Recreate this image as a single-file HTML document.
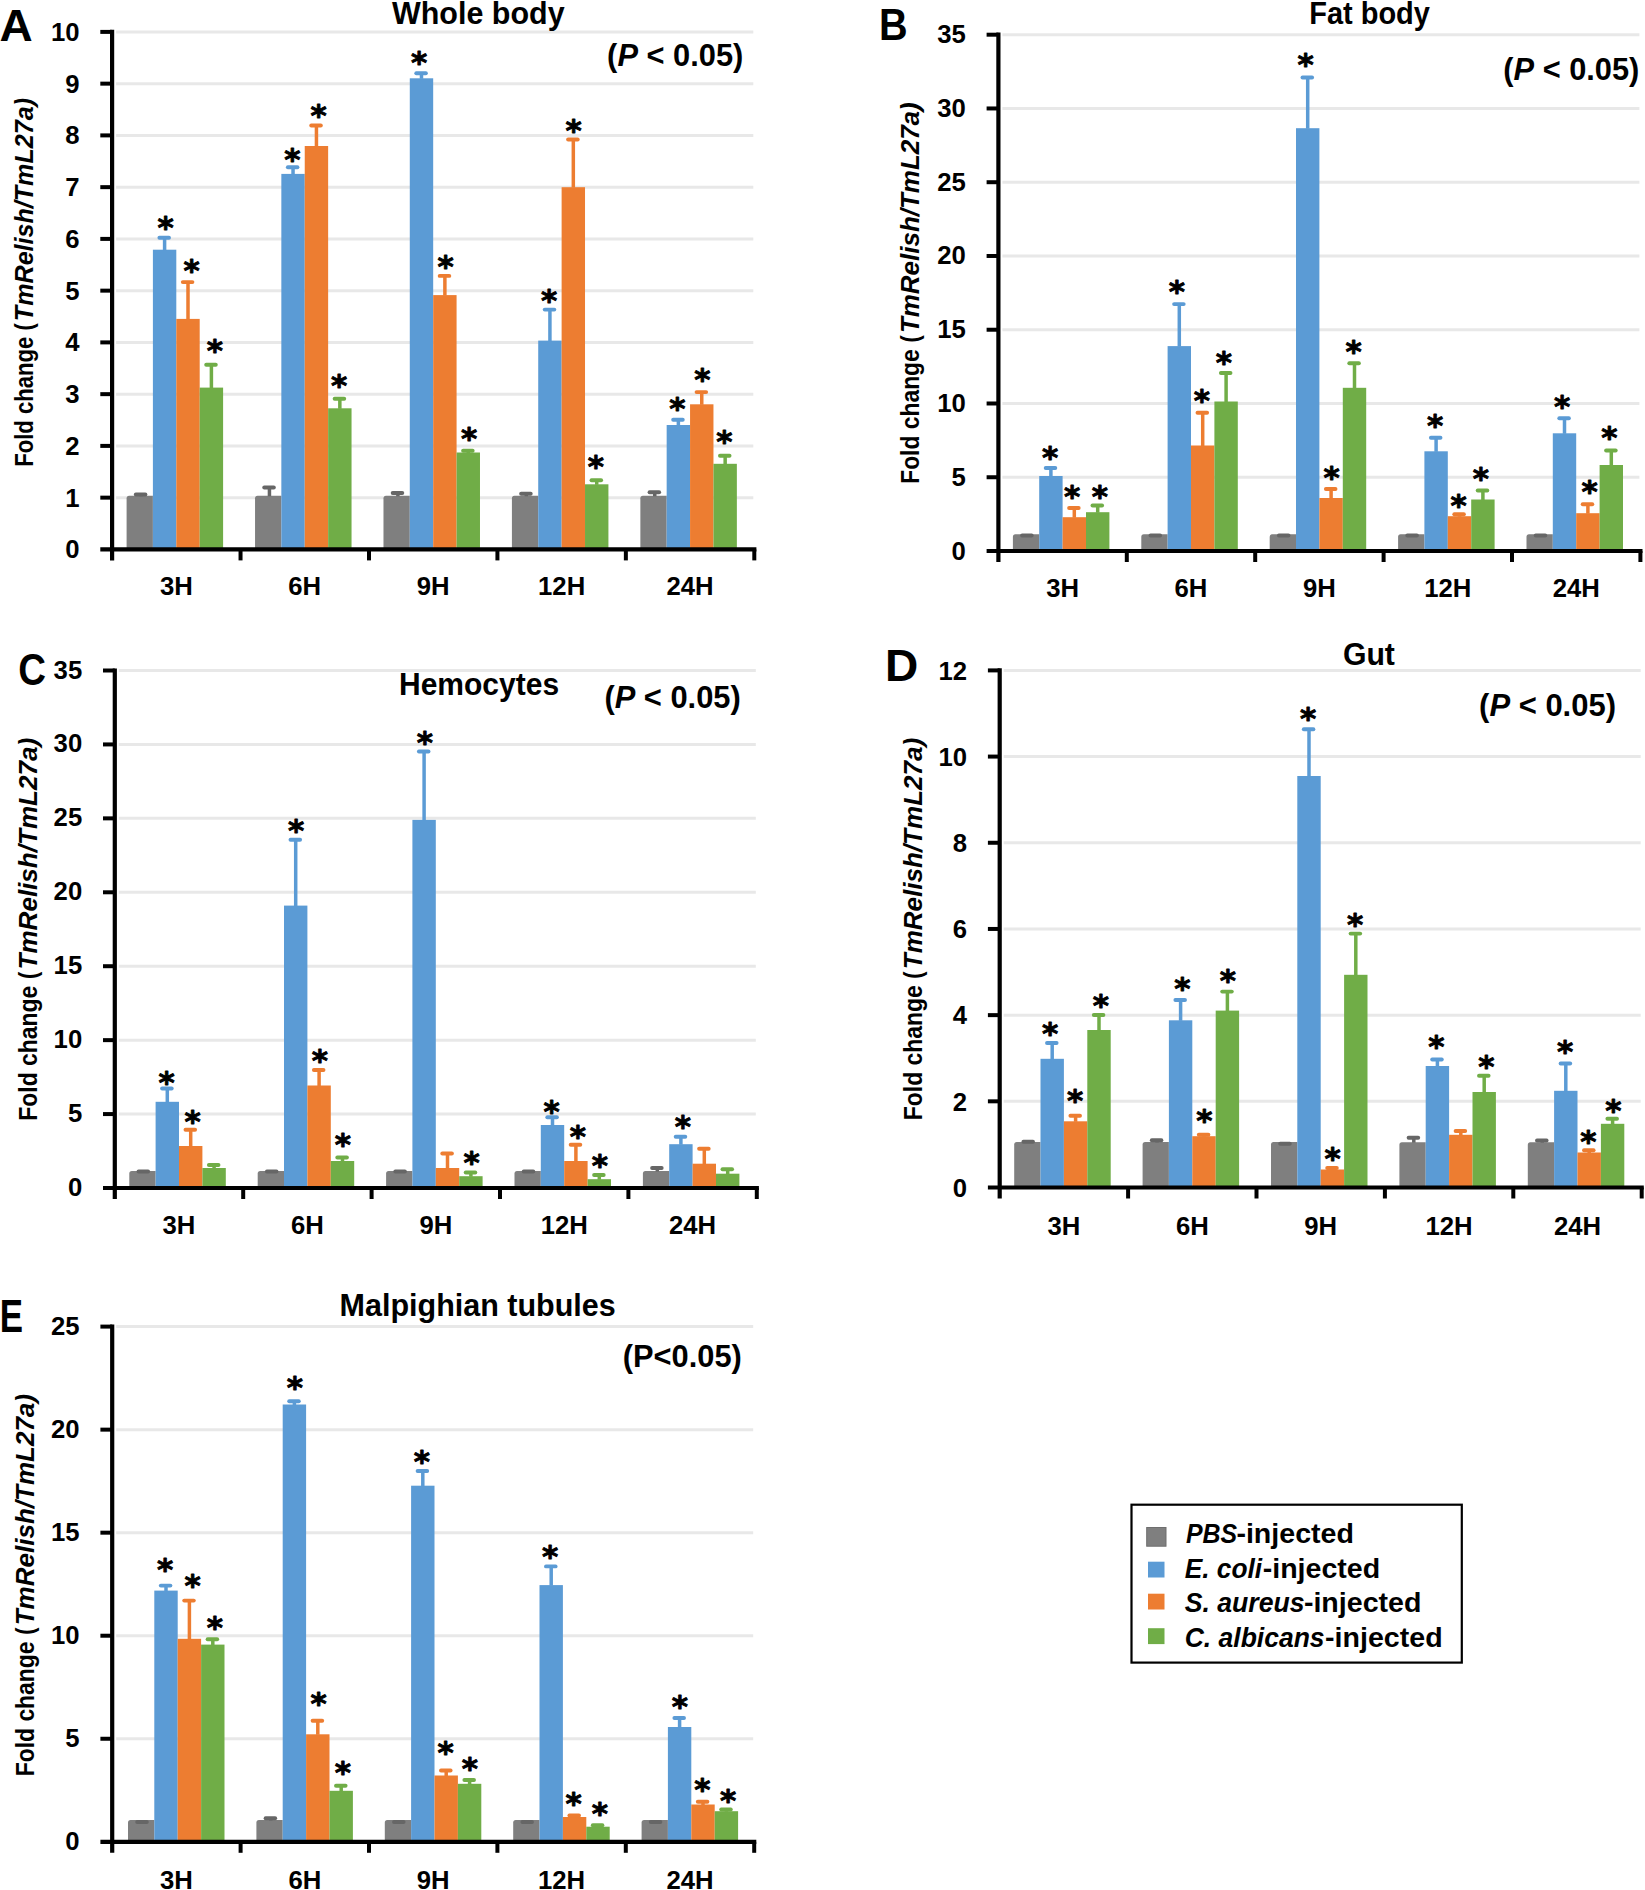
<!DOCTYPE html>
<html lang="en">
<head>
<meta charset="utf-8">
<title>TmRelish expression</title>
<style>
html,body{margin:0;padding:0;background:#fff;}
body{width:1645px;height:1890px;overflow:hidden;}
svg{display:block;}
text{font-family:"Liberation Sans", sans-serif;font-weight:bold;fill:#000;}
.t{font-size:25.7px;}
.s{font-size:31px;font-family:"DejaVu Sans","Liberation Sans",sans-serif;stroke:#000;stroke-width:0.9px;stroke-linejoin:round;}
.T{font-size:30.6px;}
.G{font-size:26.8px;}
</style>
</head>
<body>
<svg width="1645" height="1890" viewBox="0 0 1645 1890">
<rect x="0" y="0" width="1645" height="1890" fill="#ffffff"/>
<g>
<line x1="116.1" y1="497.65" x2="753.3" y2="497.65" stroke="#e8e8e8" stroke-width="3"/>
<line x1="116.1" y1="445.9" x2="753.3" y2="445.9" stroke="#e8e8e8" stroke-width="3"/>
<line x1="116.1" y1="394.15" x2="753.3" y2="394.15" stroke="#e8e8e8" stroke-width="3"/>
<line x1="116.1" y1="342.4" x2="753.3" y2="342.4" stroke="#e8e8e8" stroke-width="3"/>
<line x1="116.1" y1="290.65" x2="753.3" y2="290.65" stroke="#e8e8e8" stroke-width="3"/>
<line x1="116.1" y1="238.9" x2="753.3" y2="238.9" stroke="#e8e8e8" stroke-width="3"/>
<line x1="116.1" y1="187.15" x2="753.3" y2="187.15" stroke="#e8e8e8" stroke-width="3"/>
<line x1="116.1" y1="135.4" x2="753.3" y2="135.4" stroke="#e8e8e8" stroke-width="3"/>
<line x1="116.1" y1="83.65" x2="753.3" y2="83.65" stroke="#e8e8e8" stroke-width="3"/>
<line x1="116.1" y1="31.9" x2="753.3" y2="31.9" stroke="#e8e8e8" stroke-width="3"/>
<path d="M126.6 549.4 L126.6 498.3 Q126.6 495.8 129.1 495.8 L152.9 495.8 L152.9 549.4 Z" fill="#7f7f7f"/>
<rect x="152.9" y="249.7" width="23.4" height="299.7" fill="#5b9bd5"/>
<rect x="176.3" y="318.9" width="23.4" height="230.5" fill="#ed7d31"/>
<rect x="199.7" y="387.6" width="23.4" height="161.8" fill="#70ad47"/>
<line x1="141" y1="494.5" x2="141" y2="496.3" stroke="#666666" stroke-width="3.5"/>
<line x1="135.8" y1="494.5" x2="145.4" y2="494.5" stroke="#666666" stroke-width="3.9" stroke-linecap="round"/>
<line x1="164.6" y1="237.7" x2="164.6" y2="250.2" stroke="#5b9bd5" stroke-width="3.5"/>
<line x1="159.4" y1="237.7" x2="169" y2="237.7" stroke="#5b9bd5" stroke-width="3.9" stroke-linecap="round"/>
<line x1="188" y1="282.1" x2="188" y2="319.4" stroke="#ed7d31" stroke-width="3.5"/>
<line x1="182.8" y1="282.1" x2="192.4" y2="282.1" stroke="#ed7d31" stroke-width="3.9" stroke-linecap="round"/>
<line x1="211.4" y1="364.8" x2="211.4" y2="388.1" stroke="#70ad47" stroke-width="3.5"/>
<line x1="206.2" y1="364.8" x2="215.8" y2="364.8" stroke="#70ad47" stroke-width="3.9" stroke-linecap="round"/>
<path d="M255.04 549.4 L255.04 498.3 Q255.04 495.8 257.54 495.8 L281.34 495.8 L281.34 549.4 Z" fill="#7f7f7f"/>
<rect x="281.34" y="173.9" width="23.4" height="375.5" fill="#5b9bd5"/>
<rect x="304.74" y="146" width="23.4" height="403.4" fill="#ed7d31"/>
<rect x="328.14" y="408.3" width="23.4" height="141.1" fill="#70ad47"/>
<line x1="269.44" y1="487.5" x2="269.44" y2="496.3" stroke="#666666" stroke-width="3.5"/>
<line x1="264.24" y1="487.5" x2="273.84" y2="487.5" stroke="#666666" stroke-width="3.9" stroke-linecap="round"/>
<line x1="293.04" y1="167.2" x2="293.04" y2="174.4" stroke="#5b9bd5" stroke-width="3.5"/>
<line x1="287.84" y1="167.2" x2="297.44" y2="167.2" stroke="#5b9bd5" stroke-width="3.9" stroke-linecap="round"/>
<line x1="316.44" y1="125.5" x2="316.44" y2="146.5" stroke="#ed7d31" stroke-width="3.5"/>
<line x1="311.24" y1="125.5" x2="320.84" y2="125.5" stroke="#ed7d31" stroke-width="3.9" stroke-linecap="round"/>
<line x1="339.84" y1="398.8" x2="339.84" y2="408.8" stroke="#70ad47" stroke-width="3.5"/>
<line x1="334.64" y1="398.8" x2="344.24" y2="398.8" stroke="#70ad47" stroke-width="3.9" stroke-linecap="round"/>
<path d="M383.48 549.4 L383.48 498.3 Q383.48 495.8 385.98 495.8 L409.78 495.8 L409.78 549.4 Z" fill="#7f7f7f"/>
<rect x="409.78" y="78.3" width="23.4" height="471.1" fill="#5b9bd5"/>
<rect x="433.18" y="295.1" width="23.4" height="254.3" fill="#ed7d31"/>
<rect x="456.58" y="452.5" width="23.4" height="96.9" fill="#70ad47"/>
<line x1="397.88" y1="493" x2="397.88" y2="496.3" stroke="#666666" stroke-width="3.5"/>
<line x1="392.68" y1="493" x2="402.28" y2="493" stroke="#666666" stroke-width="3.9" stroke-linecap="round"/>
<line x1="421.48" y1="73.2" x2="421.48" y2="78.8" stroke="#5b9bd5" stroke-width="3.5"/>
<line x1="416.28" y1="73.2" x2="425.88" y2="73.2" stroke="#5b9bd5" stroke-width="3.9" stroke-linecap="round"/>
<line x1="444.88" y1="275.9" x2="444.88" y2="295.6" stroke="#ed7d31" stroke-width="3.5"/>
<line x1="439.68" y1="275.9" x2="449.28" y2="275.9" stroke="#ed7d31" stroke-width="3.9" stroke-linecap="round"/>
<line x1="468.28" y1="450.8" x2="468.28" y2="453" stroke="#70ad47" stroke-width="3.5"/>
<line x1="463.08" y1="450.8" x2="472.68" y2="450.8" stroke="#70ad47" stroke-width="3.9" stroke-linecap="round"/>
<path d="M511.92 549.4 L511.92 498.3 Q511.92 495.8 514.42 495.8 L538.22 495.8 L538.22 549.4 Z" fill="#7f7f7f"/>
<rect x="538.22" y="340.6" width="23.4" height="208.8" fill="#5b9bd5"/>
<rect x="561.62" y="187.2" width="23.4" height="362.2" fill="#ed7d31"/>
<rect x="585.02" y="484.3" width="23.4" height="65.1" fill="#70ad47"/>
<line x1="526.32" y1="493.8" x2="526.32" y2="496.3" stroke="#666666" stroke-width="3.5"/>
<line x1="521.12" y1="493.8" x2="530.72" y2="493.8" stroke="#666666" stroke-width="3.9" stroke-linecap="round"/>
<line x1="549.92" y1="309.6" x2="549.92" y2="341.1" stroke="#5b9bd5" stroke-width="3.5"/>
<line x1="544.72" y1="309.6" x2="554.32" y2="309.6" stroke="#5b9bd5" stroke-width="3.9" stroke-linecap="round"/>
<line x1="573.32" y1="139.5" x2="573.32" y2="187.7" stroke="#ed7d31" stroke-width="3.5"/>
<line x1="568.12" y1="139.5" x2="577.72" y2="139.5" stroke="#ed7d31" stroke-width="3.9" stroke-linecap="round"/>
<line x1="596.72" y1="480.3" x2="596.72" y2="484.8" stroke="#70ad47" stroke-width="3.5"/>
<line x1="591.52" y1="480.3" x2="601.12" y2="480.3" stroke="#70ad47" stroke-width="3.9" stroke-linecap="round"/>
<path d="M640.36 549.4 L640.36 498.3 Q640.36 495.8 642.86 495.8 L666.66 495.8 L666.66 549.4 Z" fill="#7f7f7f"/>
<rect x="666.66" y="425" width="23.4" height="124.4" fill="#5b9bd5"/>
<rect x="690.06" y="404.3" width="23.4" height="145.1" fill="#ed7d31"/>
<rect x="713.46" y="463.8" width="23.4" height="85.6" fill="#70ad47"/>
<line x1="654.76" y1="492.3" x2="654.76" y2="496.3" stroke="#666666" stroke-width="3.5"/>
<line x1="649.56" y1="492.3" x2="659.16" y2="492.3" stroke="#666666" stroke-width="3.9" stroke-linecap="round"/>
<line x1="678.36" y1="419.8" x2="678.36" y2="425.5" stroke="#5b9bd5" stroke-width="3.5"/>
<line x1="673.16" y1="419.8" x2="682.76" y2="419.8" stroke="#5b9bd5" stroke-width="3.9" stroke-linecap="round"/>
<line x1="701.76" y1="392.1" x2="701.76" y2="404.8" stroke="#ed7d31" stroke-width="3.5"/>
<line x1="696.56" y1="392.1" x2="706.16" y2="392.1" stroke="#ed7d31" stroke-width="3.9" stroke-linecap="round"/>
<line x1="725.16" y1="455.8" x2="725.16" y2="464.3" stroke="#70ad47" stroke-width="3.5"/>
<line x1="719.96" y1="455.8" x2="729.56" y2="455.8" stroke="#70ad47" stroke-width="3.9" stroke-linecap="round"/>
<line x1="112.1" y1="29.8" x2="112.1" y2="560.4" stroke="#000" stroke-width="4.2"/>
<line x1="100.3" y1="549.4" x2="756.4" y2="549.4" stroke="#000" stroke-width="4.2"/>
<line x1="100.3" y1="497.65" x2="112.1" y2="497.65" stroke="#000" stroke-width="4"/>
<line x1="100.3" y1="445.9" x2="112.1" y2="445.9" stroke="#000" stroke-width="4"/>
<line x1="100.3" y1="394.15" x2="112.1" y2="394.15" stroke="#000" stroke-width="4"/>
<line x1="100.3" y1="342.4" x2="112.1" y2="342.4" stroke="#000" stroke-width="4"/>
<line x1="100.3" y1="290.65" x2="112.1" y2="290.65" stroke="#000" stroke-width="4"/>
<line x1="100.3" y1="238.9" x2="112.1" y2="238.9" stroke="#000" stroke-width="4"/>
<line x1="100.3" y1="187.15" x2="112.1" y2="187.15" stroke="#000" stroke-width="4"/>
<line x1="100.3" y1="135.4" x2="112.1" y2="135.4" stroke="#000" stroke-width="4"/>
<line x1="100.3" y1="83.65" x2="112.1" y2="83.65" stroke="#000" stroke-width="4"/>
<line x1="100.3" y1="31.9" x2="112.1" y2="31.9" stroke="#000" stroke-width="4"/>
<line x1="240.54" y1="549.4" x2="240.54" y2="560.4" stroke="#000" stroke-width="4"/>
<line x1="368.98" y1="549.4" x2="368.98" y2="560.4" stroke="#000" stroke-width="4"/>
<line x1="497.42" y1="549.4" x2="497.42" y2="560.4" stroke="#000" stroke-width="4"/>
<line x1="625.86" y1="549.4" x2="625.86" y2="560.4" stroke="#000" stroke-width="4"/>
<line x1="754.3" y1="549.4" x2="754.3" y2="560.4" stroke="#000" stroke-width="4"/>
<text class="t" x="79.5" y="558.4" text-anchor="end">0</text>
<text class="t" x="79.5" y="506.65" text-anchor="end">1</text>
<text class="t" x="79.5" y="454.9" text-anchor="end">2</text>
<text class="t" x="79.5" y="403.15" text-anchor="end">3</text>
<text class="t" x="79.5" y="351.4" text-anchor="end">4</text>
<text class="t" x="79.5" y="299.65" text-anchor="end">5</text>
<text class="t" x="79.5" y="247.9" text-anchor="end">6</text>
<text class="t" x="79.5" y="196.15" text-anchor="end">7</text>
<text class="t" x="79.5" y="144.4" text-anchor="end">8</text>
<text class="t" x="79.5" y="92.65" text-anchor="end">9</text>
<text class="t" x="79.5" y="40.9" text-anchor="end">10</text>
<text class="t" x="176.32" y="595" text-anchor="middle">3H</text>
<text class="t" x="304.76" y="595" text-anchor="middle">6H</text>
<text class="t" x="433.2" y="595" text-anchor="middle">9H</text>
<text class="t" x="561.64" y="595" text-anchor="middle">12H</text>
<text class="t" x="690.08" y="595" text-anchor="middle">24H</text>
<text class="s" x="165.5" y="237.5" text-anchor="middle">*</text>
<text class="s" x="191.7" y="281.2" text-anchor="middle">*</text>
<text class="s" x="214.9" y="361.2" text-anchor="middle">*</text>
<text class="s" x="292.4" y="170.1" text-anchor="middle">*</text>
<text class="s" x="318.6" y="126.3" text-anchor="middle">*</text>
<text class="s" x="339.1" y="395.7" text-anchor="middle">*</text>
<text class="s" x="419" y="72.8" text-anchor="middle">*</text>
<text class="s" x="445.5" y="277" text-anchor="middle">*</text>
<text class="s" x="469" y="448.6" text-anchor="middle">*</text>
<text class="s" x="549.2" y="310.7" text-anchor="middle">*</text>
<text class="s" x="573.6" y="141.3" text-anchor="middle">*</text>
<text class="s" x="595.9" y="477.4" text-anchor="middle">*</text>
<text class="s" x="677.3" y="419.4" text-anchor="middle">*</text>
<text class="s" x="702.3" y="390.4" text-anchor="middle">*</text>
<text class="s" x="724.3" y="452.4" text-anchor="middle">*</text>
<text class="L" x="-0.5" y="41.3" font-size="43.88" textLength="33.21" lengthAdjust="spacingAndGlyphs">A</text>
<text class="T" x="392" y="24.2" textLength="172.6" lengthAdjust="spacingAndGlyphs">Whole body</text>
<text class="T" x="607.1" y="66.2" textLength="136.2" lengthAdjust="spacingAndGlyphs">(<tspan font-style="italic">P</tspan> &lt; 0.05)</text>
<text class="t" transform="translate(32.9 466.8) rotate(-90)" x="0" y="0" textLength="143.66" lengthAdjust="spacingAndGlyphs">Fold change (</text>
<text class="t" font-style="italic" transform="translate(32.9 321.14) rotate(-90)" x="0" y="0" textLength="223.14" lengthAdjust="spacingAndGlyphs">TmRelish/TmL27a)</text>
</g>
<g>
<line x1="1002.4" y1="477.24" x2="1639.4" y2="477.24" stroke="#e8e8e8" stroke-width="3"/>
<line x1="1002.4" y1="403.49" x2="1639.4" y2="403.49" stroke="#e8e8e8" stroke-width="3"/>
<line x1="1002.4" y1="329.73" x2="1639.4" y2="329.73" stroke="#e8e8e8" stroke-width="3"/>
<line x1="1002.4" y1="255.97" x2="1639.4" y2="255.97" stroke="#e8e8e8" stroke-width="3"/>
<line x1="1002.4" y1="182.21" x2="1639.4" y2="182.21" stroke="#e8e8e8" stroke-width="3"/>
<line x1="1002.4" y1="108.46" x2="1639.4" y2="108.46" stroke="#e8e8e8" stroke-width="3"/>
<line x1="1002.4" y1="34.7" x2="1639.4" y2="34.7" stroke="#e8e8e8" stroke-width="3"/>
<path d="M1012.9 551 L1012.9 536.7 Q1012.9 534.2 1015.4 534.2 L1039.2 534.2 L1039.2 551 Z" fill="#7f7f7f"/>
<rect x="1039.2" y="476" width="23.4" height="75" fill="#5b9bd5"/>
<rect x="1062.6" y="517.2" width="23.4" height="33.8" fill="#ed7d31"/>
<rect x="1086" y="512.2" width="23.4" height="38.8" fill="#70ad47"/>
<line x1="1022.1" y1="535.5" x2="1031.7" y2="535.5" stroke="#666666" stroke-width="3.9" stroke-linecap="round"/>
<line x1="1050.9" y1="468" x2="1050.9" y2="476.5" stroke="#5b9bd5" stroke-width="3.5"/>
<line x1="1045.7" y1="468" x2="1055.3" y2="468" stroke="#5b9bd5" stroke-width="3.9" stroke-linecap="round"/>
<line x1="1074.3" y1="508" x2="1074.3" y2="517.7" stroke="#ed7d31" stroke-width="3.5"/>
<line x1="1069.1" y1="508" x2="1078.7" y2="508" stroke="#ed7d31" stroke-width="3.9" stroke-linecap="round"/>
<line x1="1097.7" y1="505.5" x2="1097.7" y2="512.7" stroke="#70ad47" stroke-width="3.5"/>
<line x1="1092.5" y1="505.5" x2="1102.1" y2="505.5" stroke="#70ad47" stroke-width="3.9" stroke-linecap="round"/>
<path d="M1141.3 551 L1141.3 536.7 Q1141.3 534.2 1143.8 534.2 L1167.6 534.2 L1167.6 551 Z" fill="#7f7f7f"/>
<rect x="1167.6" y="346.1" width="23.4" height="204.9" fill="#5b9bd5"/>
<rect x="1191" y="445.5" width="23.4" height="105.5" fill="#ed7d31"/>
<rect x="1214.4" y="401.5" width="23.4" height="149.5" fill="#70ad47"/>
<line x1="1150.5" y1="535.5" x2="1160.1" y2="535.5" stroke="#666666" stroke-width="3.9" stroke-linecap="round"/>
<line x1="1179.3" y1="304.1" x2="1179.3" y2="346.6" stroke="#5b9bd5" stroke-width="3.5"/>
<line x1="1174.1" y1="304.1" x2="1183.7" y2="304.1" stroke="#5b9bd5" stroke-width="3.9" stroke-linecap="round"/>
<line x1="1202.7" y1="412.8" x2="1202.7" y2="446" stroke="#ed7d31" stroke-width="3.5"/>
<line x1="1197.5" y1="412.8" x2="1207.1" y2="412.8" stroke="#ed7d31" stroke-width="3.9" stroke-linecap="round"/>
<line x1="1226.1" y1="373" x2="1226.1" y2="402" stroke="#70ad47" stroke-width="3.5"/>
<line x1="1220.9" y1="373" x2="1230.5" y2="373" stroke="#70ad47" stroke-width="3.9" stroke-linecap="round"/>
<path d="M1269.7 551 L1269.7 536.7 Q1269.7 534.2 1272.2 534.2 L1296 534.2 L1296 551 Z" fill="#7f7f7f"/>
<rect x="1296" y="128.2" width="23.4" height="422.8" fill="#5b9bd5"/>
<rect x="1319.4" y="498" width="23.4" height="53" fill="#ed7d31"/>
<rect x="1342.8" y="387.8" width="23.4" height="163.2" fill="#70ad47"/>
<line x1="1278.9" y1="535.5" x2="1288.5" y2="535.5" stroke="#666666" stroke-width="3.9" stroke-linecap="round"/>
<line x1="1307.7" y1="77.5" x2="1307.7" y2="128.7" stroke="#5b9bd5" stroke-width="3.5"/>
<line x1="1302.5" y1="77.5" x2="1312.1" y2="77.5" stroke="#5b9bd5" stroke-width="3.9" stroke-linecap="round"/>
<line x1="1331.1" y1="489" x2="1331.1" y2="498.5" stroke="#ed7d31" stroke-width="3.5"/>
<line x1="1325.9" y1="489" x2="1335.5" y2="489" stroke="#ed7d31" stroke-width="3.9" stroke-linecap="round"/>
<line x1="1354.5" y1="363.3" x2="1354.5" y2="388.3" stroke="#70ad47" stroke-width="3.5"/>
<line x1="1349.3" y1="363.3" x2="1358.9" y2="363.3" stroke="#70ad47" stroke-width="3.9" stroke-linecap="round"/>
<path d="M1398.1 551 L1398.1 536.7 Q1398.1 534.2 1400.6 534.2 L1424.4 534.2 L1424.4 551 Z" fill="#7f7f7f"/>
<rect x="1424.4" y="451.3" width="23.4" height="99.7" fill="#5b9bd5"/>
<rect x="1447.8" y="516.2" width="23.4" height="34.8" fill="#ed7d31"/>
<rect x="1471.2" y="499.5" width="23.4" height="51.5" fill="#70ad47"/>
<line x1="1407.3" y1="535.5" x2="1416.9" y2="535.5" stroke="#666666" stroke-width="3.9" stroke-linecap="round"/>
<line x1="1436.1" y1="437.8" x2="1436.1" y2="451.8" stroke="#5b9bd5" stroke-width="3.5"/>
<line x1="1430.9" y1="437.8" x2="1440.5" y2="437.8" stroke="#5b9bd5" stroke-width="3.9" stroke-linecap="round"/>
<line x1="1459.5" y1="514.2" x2="1459.5" y2="516.7" stroke="#ed7d31" stroke-width="3.5"/>
<line x1="1454.3" y1="514.2" x2="1463.9" y2="514.2" stroke="#ed7d31" stroke-width="3.9" stroke-linecap="round"/>
<line x1="1482.9" y1="490.5" x2="1482.9" y2="500" stroke="#70ad47" stroke-width="3.5"/>
<line x1="1477.7" y1="490.5" x2="1487.3" y2="490.5" stroke="#70ad47" stroke-width="3.9" stroke-linecap="round"/>
<path d="M1526.5 551 L1526.5 536.7 Q1526.5 534.2 1529 534.2 L1552.8 534.2 L1552.8 551 Z" fill="#7f7f7f"/>
<rect x="1552.8" y="433.3" width="23.4" height="117.7" fill="#5b9bd5"/>
<rect x="1576.2" y="513.2" width="23.4" height="37.8" fill="#ed7d31"/>
<rect x="1599.6" y="465" width="23.4" height="86" fill="#70ad47"/>
<line x1="1535.7" y1="535.5" x2="1545.3" y2="535.5" stroke="#666666" stroke-width="3.9" stroke-linecap="round"/>
<line x1="1564.5" y1="418.3" x2="1564.5" y2="433.8" stroke="#5b9bd5" stroke-width="3.5"/>
<line x1="1559.3" y1="418.3" x2="1568.9" y2="418.3" stroke="#5b9bd5" stroke-width="3.9" stroke-linecap="round"/>
<line x1="1587.9" y1="504.2" x2="1587.9" y2="513.7" stroke="#ed7d31" stroke-width="3.5"/>
<line x1="1582.7" y1="504.2" x2="1592.3" y2="504.2" stroke="#ed7d31" stroke-width="3.9" stroke-linecap="round"/>
<line x1="1611.3" y1="450.5" x2="1611.3" y2="465.5" stroke="#70ad47" stroke-width="3.5"/>
<line x1="1606.1" y1="450.5" x2="1615.7" y2="450.5" stroke="#70ad47" stroke-width="3.9" stroke-linecap="round"/>
<line x1="998.4" y1="32.6" x2="998.4" y2="562" stroke="#000" stroke-width="4.2"/>
<line x1="986.6" y1="551" x2="1642.5" y2="551" stroke="#000" stroke-width="4.2"/>
<line x1="986.6" y1="477.24" x2="998.4" y2="477.24" stroke="#000" stroke-width="4"/>
<line x1="986.6" y1="403.49" x2="998.4" y2="403.49" stroke="#000" stroke-width="4"/>
<line x1="986.6" y1="329.73" x2="998.4" y2="329.73" stroke="#000" stroke-width="4"/>
<line x1="986.6" y1="255.97" x2="998.4" y2="255.97" stroke="#000" stroke-width="4"/>
<line x1="986.6" y1="182.21" x2="998.4" y2="182.21" stroke="#000" stroke-width="4"/>
<line x1="986.6" y1="108.46" x2="998.4" y2="108.46" stroke="#000" stroke-width="4"/>
<line x1="986.6" y1="34.7" x2="998.4" y2="34.7" stroke="#000" stroke-width="4"/>
<line x1="1126.8" y1="551" x2="1126.8" y2="562" stroke="#000" stroke-width="4"/>
<line x1="1255.2" y1="551" x2="1255.2" y2="562" stroke="#000" stroke-width="4"/>
<line x1="1383.6" y1="551" x2="1383.6" y2="562" stroke="#000" stroke-width="4"/>
<line x1="1512" y1="551" x2="1512" y2="562" stroke="#000" stroke-width="4"/>
<line x1="1640.4" y1="551" x2="1640.4" y2="562" stroke="#000" stroke-width="4"/>
<text class="t" x="965.8" y="559.5" text-anchor="end">0</text>
<text class="t" x="965.8" y="485.74" text-anchor="end">5</text>
<text class="t" x="965.8" y="411.99" text-anchor="end">10</text>
<text class="t" x="965.8" y="338.23" text-anchor="end">15</text>
<text class="t" x="965.8" y="264.47" text-anchor="end">20</text>
<text class="t" x="965.8" y="190.71" text-anchor="end">25</text>
<text class="t" x="965.8" y="116.96" text-anchor="end">30</text>
<text class="t" x="965.8" y="43.2" text-anchor="end">35</text>
<text class="t" x="1062.6" y="597.4" text-anchor="middle">3H</text>
<text class="t" x="1191" y="597.4" text-anchor="middle">6H</text>
<text class="t" x="1319.4" y="597.4" text-anchor="middle">9H</text>
<text class="t" x="1447.8" y="597.4" text-anchor="middle">12H</text>
<text class="t" x="1576.2" y="597.4" text-anchor="middle">24H</text>
<text class="s" x="1050.2" y="467.9" text-anchor="middle">*</text>
<text class="s" x="1072" y="507.1" text-anchor="middle">*</text>
<text class="s" x="1099.9" y="506.6" text-anchor="middle">*</text>
<text class="s" x="1176.9" y="302.2" text-anchor="middle">*</text>
<text class="s" x="1201.9" y="411.4" text-anchor="middle">*</text>
<text class="s" x="1223.9" y="372.6" text-anchor="middle">*</text>
<text class="s" x="1305.6" y="75.3" text-anchor="middle">*</text>
<text class="s" x="1331.5" y="487.6" text-anchor="middle">*</text>
<text class="s" x="1353.5" y="361.6" text-anchor="middle">*</text>
<text class="s" x="1435.1" y="435.6" text-anchor="middle">*</text>
<text class="s" x="1458.6" y="515.6" text-anchor="middle">*</text>
<text class="s" x="1480.9" y="489.4" text-anchor="middle">*</text>
<text class="s" x="1562.1" y="416.6" text-anchor="middle">*</text>
<text class="s" x="1589.5" y="501.9" text-anchor="middle">*</text>
<text class="s" x="1609.3" y="448.1" text-anchor="middle">*</text>
<text class="L" x="879.11" y="40" font-size="44.6" textLength="28.63" lengthAdjust="spacingAndGlyphs">B</text>
<text class="T" x="1309.2" y="24.2" textLength="120.7" lengthAdjust="spacingAndGlyphs">Fat body</text>
<text class="T" x="1503.3" y="80" textLength="136" lengthAdjust="spacingAndGlyphs">(<tspan font-style="italic">P</tspan> &lt; 0.05)</text>
<text class="t" transform="translate(918.9 483.8) rotate(-90)" x="0" y="0" textLength="148.54" lengthAdjust="spacingAndGlyphs">Fold change (</text>
<text class="t" font-style="italic" transform="translate(918.9 333.1) rotate(-90)" x="0" y="0" textLength="230.8" lengthAdjust="spacingAndGlyphs">TmRelish/TmL27a)</text>
</g>
<g>
<line x1="118.8" y1="1114.07" x2="755.8" y2="1114.07" stroke="#e8e8e8" stroke-width="3"/>
<line x1="118.8" y1="1040.14" x2="755.8" y2="1040.14" stroke="#e8e8e8" stroke-width="3"/>
<line x1="118.8" y1="966.21" x2="755.8" y2="966.21" stroke="#e8e8e8" stroke-width="3"/>
<line x1="118.8" y1="892.29" x2="755.8" y2="892.29" stroke="#e8e8e8" stroke-width="3"/>
<line x1="118.8" y1="818.36" x2="755.8" y2="818.36" stroke="#e8e8e8" stroke-width="3"/>
<line x1="118.8" y1="744.43" x2="755.8" y2="744.43" stroke="#e8e8e8" stroke-width="3"/>
<line x1="118.8" y1="670.5" x2="755.8" y2="670.5" stroke="#e8e8e8" stroke-width="3"/>
<path d="M129.3 1188 L129.3 1173.5 Q129.3 1171 131.8 1171 L155.6 1171 L155.6 1188 Z" fill="#7f7f7f"/>
<rect x="155.6" y="1101.8" width="23.4" height="86.2" fill="#5b9bd5"/>
<rect x="179" y="1146" width="23.4" height="42" fill="#ed7d31"/>
<rect x="202.4" y="1168" width="23.4" height="20" fill="#70ad47"/>
<line x1="138.5" y1="1171.5" x2="148.1" y2="1171.5" stroke="#666666" stroke-width="3.9" stroke-linecap="round"/>
<line x1="167.3" y1="1088.5" x2="167.3" y2="1102.3" stroke="#5b9bd5" stroke-width="3.5"/>
<line x1="162.1" y1="1088.5" x2="171.7" y2="1088.5" stroke="#5b9bd5" stroke-width="3.9" stroke-linecap="round"/>
<line x1="190.7" y1="1129.8" x2="190.7" y2="1146.5" stroke="#ed7d31" stroke-width="3.5"/>
<line x1="185.5" y1="1129.8" x2="195.1" y2="1129.8" stroke="#ed7d31" stroke-width="3.9" stroke-linecap="round"/>
<line x1="214.1" y1="1165" x2="214.1" y2="1168.5" stroke="#70ad47" stroke-width="3.5"/>
<line x1="208.9" y1="1165" x2="218.5" y2="1165" stroke="#70ad47" stroke-width="3.9" stroke-linecap="round"/>
<path d="M257.7 1188 L257.7 1173.5 Q257.7 1171 260.2 1171 L284 1171 L284 1188 Z" fill="#7f7f7f"/>
<rect x="284" y="905.6" width="23.4" height="282.4" fill="#5b9bd5"/>
<rect x="307.4" y="1085.5" width="23.4" height="102.5" fill="#ed7d31"/>
<rect x="330.8" y="1161" width="23.4" height="27" fill="#70ad47"/>
<line x1="266.9" y1="1171.5" x2="276.5" y2="1171.5" stroke="#666666" stroke-width="3.9" stroke-linecap="round"/>
<line x1="295.7" y1="839.7" x2="295.7" y2="906.1" stroke="#5b9bd5" stroke-width="3.5"/>
<line x1="290.5" y1="839.7" x2="300.1" y2="839.7" stroke="#5b9bd5" stroke-width="3.9" stroke-linecap="round"/>
<line x1="319.1" y1="1070" x2="319.1" y2="1086" stroke="#ed7d31" stroke-width="3.5"/>
<line x1="313.9" y1="1070" x2="323.5" y2="1070" stroke="#ed7d31" stroke-width="3.9" stroke-linecap="round"/>
<line x1="342.5" y1="1157.5" x2="342.5" y2="1161.5" stroke="#70ad47" stroke-width="3.5"/>
<line x1="337.3" y1="1157.5" x2="346.9" y2="1157.5" stroke="#70ad47" stroke-width="3.9" stroke-linecap="round"/>
<path d="M386.1 1188 L386.1 1173.5 Q386.1 1171 388.6 1171 L412.4 1171 L412.4 1188 Z" fill="#7f7f7f"/>
<rect x="412.4" y="819.9" width="23.4" height="368.1" fill="#5b9bd5"/>
<rect x="435.8" y="1168" width="23.4" height="20" fill="#ed7d31"/>
<rect x="459.2" y="1176.2" width="23.4" height="11.8" fill="#70ad47"/>
<line x1="395.3" y1="1171.5" x2="404.9" y2="1171.5" stroke="#666666" stroke-width="3.9" stroke-linecap="round"/>
<line x1="424.1" y1="751.5" x2="424.1" y2="820.4" stroke="#5b9bd5" stroke-width="3.5"/>
<line x1="418.9" y1="751.5" x2="428.5" y2="751.5" stroke="#5b9bd5" stroke-width="3.9" stroke-linecap="round"/>
<line x1="447.5" y1="1153.5" x2="447.5" y2="1168.5" stroke="#ed7d31" stroke-width="3.5"/>
<line x1="442.3" y1="1153.5" x2="451.9" y2="1153.5" stroke="#ed7d31" stroke-width="3.9" stroke-linecap="round"/>
<line x1="470.9" y1="1172.5" x2="470.9" y2="1176.7" stroke="#70ad47" stroke-width="3.5"/>
<line x1="465.7" y1="1172.5" x2="475.3" y2="1172.5" stroke="#70ad47" stroke-width="3.9" stroke-linecap="round"/>
<path d="M514.5 1188 L514.5 1173.5 Q514.5 1171 517 1171 L540.8 1171 L540.8 1188 Z" fill="#7f7f7f"/>
<rect x="540.8" y="1125" width="23.4" height="63" fill="#5b9bd5"/>
<rect x="564.2" y="1161" width="23.4" height="27" fill="#ed7d31"/>
<rect x="587.6" y="1179.2" width="23.4" height="8.8" fill="#70ad47"/>
<line x1="523.7" y1="1171.5" x2="533.3" y2="1171.5" stroke="#666666" stroke-width="3.9" stroke-linecap="round"/>
<line x1="552.5" y1="1117.3" x2="552.5" y2="1125.5" stroke="#5b9bd5" stroke-width="3.5"/>
<line x1="547.3" y1="1117.3" x2="556.9" y2="1117.3" stroke="#5b9bd5" stroke-width="3.9" stroke-linecap="round"/>
<line x1="575.9" y1="1144.8" x2="575.9" y2="1161.5" stroke="#ed7d31" stroke-width="3.5"/>
<line x1="570.7" y1="1144.8" x2="580.3" y2="1144.8" stroke="#ed7d31" stroke-width="3.9" stroke-linecap="round"/>
<line x1="599.3" y1="1175" x2="599.3" y2="1179.7" stroke="#70ad47" stroke-width="3.5"/>
<line x1="594.1" y1="1175" x2="603.7" y2="1175" stroke="#70ad47" stroke-width="3.9" stroke-linecap="round"/>
<path d="M642.9 1188 L642.9 1173.5 Q642.9 1171 645.4 1171 L669.2 1171 L669.2 1188 Z" fill="#7f7f7f"/>
<rect x="669.2" y="1144.2" width="23.4" height="43.8" fill="#5b9bd5"/>
<rect x="692.6" y="1163.7" width="23.4" height="24.3" fill="#ed7d31"/>
<rect x="716" y="1173.7" width="23.4" height="14.3" fill="#70ad47"/>
<line x1="657.3" y1="1168" x2="657.3" y2="1171.5" stroke="#666666" stroke-width="3.5"/>
<line x1="652.1" y1="1168" x2="661.7" y2="1168" stroke="#666666" stroke-width="3.9" stroke-linecap="round"/>
<line x1="680.9" y1="1136.7" x2="680.9" y2="1144.7" stroke="#5b9bd5" stroke-width="3.5"/>
<line x1="675.7" y1="1136.7" x2="685.3" y2="1136.7" stroke="#5b9bd5" stroke-width="3.9" stroke-linecap="round"/>
<line x1="704.3" y1="1148.8" x2="704.3" y2="1164.2" stroke="#ed7d31" stroke-width="3.5"/>
<line x1="699.1" y1="1148.8" x2="708.7" y2="1148.8" stroke="#ed7d31" stroke-width="3.9" stroke-linecap="round"/>
<line x1="727.7" y1="1169.2" x2="727.7" y2="1174.2" stroke="#70ad47" stroke-width="3.5"/>
<line x1="722.5" y1="1169.2" x2="732.1" y2="1169.2" stroke="#70ad47" stroke-width="3.9" stroke-linecap="round"/>
<line x1="114.8" y1="668.4" x2="114.8" y2="1199" stroke="#000" stroke-width="4.2"/>
<line x1="103" y1="1188" x2="758.9" y2="1188" stroke="#000" stroke-width="4.2"/>
<line x1="103" y1="1114.07" x2="114.8" y2="1114.07" stroke="#000" stroke-width="4"/>
<line x1="103" y1="1040.14" x2="114.8" y2="1040.14" stroke="#000" stroke-width="4"/>
<line x1="103" y1="966.21" x2="114.8" y2="966.21" stroke="#000" stroke-width="4"/>
<line x1="103" y1="892.29" x2="114.8" y2="892.29" stroke="#000" stroke-width="4"/>
<line x1="103" y1="818.36" x2="114.8" y2="818.36" stroke="#000" stroke-width="4"/>
<line x1="103" y1="744.43" x2="114.8" y2="744.43" stroke="#000" stroke-width="4"/>
<line x1="103" y1="670.5" x2="114.8" y2="670.5" stroke="#000" stroke-width="4"/>
<line x1="243.2" y1="1188" x2="243.2" y2="1199" stroke="#000" stroke-width="4"/>
<line x1="371.6" y1="1188" x2="371.6" y2="1199" stroke="#000" stroke-width="4"/>
<line x1="500" y1="1188" x2="500" y2="1199" stroke="#000" stroke-width="4"/>
<line x1="628.4" y1="1188" x2="628.4" y2="1199" stroke="#000" stroke-width="4"/>
<line x1="756.8" y1="1188" x2="756.8" y2="1199" stroke="#000" stroke-width="4"/>
<text class="t" x="82.2" y="1196" text-anchor="end">0</text>
<text class="t" x="82.2" y="1122.07" text-anchor="end">5</text>
<text class="t" x="82.2" y="1048.14" text-anchor="end">10</text>
<text class="t" x="82.2" y="974.21" text-anchor="end">15</text>
<text class="t" x="82.2" y="900.29" text-anchor="end">20</text>
<text class="t" x="82.2" y="826.36" text-anchor="end">25</text>
<text class="t" x="82.2" y="752.43" text-anchor="end">30</text>
<text class="t" x="82.2" y="678.5" text-anchor="end">35</text>
<text class="t" x="179" y="1234.4" text-anchor="middle">3H</text>
<text class="t" x="307.4" y="1234.4" text-anchor="middle">6H</text>
<text class="t" x="435.8" y="1234.4" text-anchor="middle">9H</text>
<text class="t" x="564.2" y="1234.4" text-anchor="middle">12H</text>
<text class="t" x="692.6" y="1234.4" text-anchor="middle">24H</text>
<text class="s" x="166.7" y="1093.4" text-anchor="middle">*</text>
<text class="s" x="192.7" y="1132.1" text-anchor="middle">*</text>
<text class="s" x="296.1" y="840.5" text-anchor="middle">*</text>
<text class="s" x="319.9" y="1071.1" text-anchor="middle">*</text>
<text class="s" x="342.9" y="1155.3" text-anchor="middle">*</text>
<text class="s" x="424.8" y="752.6" text-anchor="middle">*</text>
<text class="s" x="471.5" y="1173.3" text-anchor="middle">*</text>
<text class="s" x="551.7" y="1122.4" text-anchor="middle">*</text>
<text class="s" x="577.9" y="1147.1" text-anchor="middle">*</text>
<text class="s" x="599.9" y="1175.8" text-anchor="middle">*</text>
<text class="s" x="682.8" y="1137.4" text-anchor="middle">*</text>
<text class="L" x="18.19" y="685" font-size="44.6" textLength="27.76" lengthAdjust="spacingAndGlyphs">C</text>
<text class="T" x="399" y="695" textLength="160.1" lengthAdjust="spacingAndGlyphs">Hemocytes</text>
<text class="T" x="604.4" y="707.5" textLength="136.4" lengthAdjust="spacingAndGlyphs">(<tspan font-style="italic">P</tspan> &lt; 0.05)</text>
<text class="t" transform="translate(37.2 1120.7) rotate(-90)" x="0" y="0" textLength="149.04" lengthAdjust="spacingAndGlyphs">Fold change (</text>
<text class="t" font-style="italic" transform="translate(37.2 969.49) rotate(-90)" x="0" y="0" textLength="231.59" lengthAdjust="spacingAndGlyphs">TmRelish/TmL27a)</text>
</g>
<g>
<line x1="1003.7" y1="1101.32" x2="1640.7" y2="1101.32" stroke="#e8e8e8" stroke-width="3"/>
<line x1="1003.7" y1="1015.13" x2="1640.7" y2="1015.13" stroke="#e8e8e8" stroke-width="3"/>
<line x1="1003.7" y1="928.95" x2="1640.7" y2="928.95" stroke="#e8e8e8" stroke-width="3"/>
<line x1="1003.7" y1="842.77" x2="1640.7" y2="842.77" stroke="#e8e8e8" stroke-width="3"/>
<line x1="1003.7" y1="756.58" x2="1640.7" y2="756.58" stroke="#e8e8e8" stroke-width="3"/>
<line x1="1003.7" y1="670.4" x2="1640.7" y2="670.4" stroke="#e8e8e8" stroke-width="3"/>
<path d="M1014.2 1187.5 L1014.2 1144.5 Q1014.2 1142 1016.7 1142 L1040.5 1142 L1040.5 1187.5 Z" fill="#7f7f7f"/>
<rect x="1040.5" y="1058.8" width="23.4" height="128.7" fill="#5b9bd5"/>
<rect x="1063.9" y="1121.3" width="23.4" height="66.2" fill="#ed7d31"/>
<rect x="1087.3" y="1030" width="23.4" height="157.5" fill="#70ad47"/>
<line x1="1023.4" y1="1141.7" x2="1033" y2="1141.7" stroke="#666666" stroke-width="3.9" stroke-linecap="round"/>
<line x1="1052.2" y1="1043" x2="1052.2" y2="1059.3" stroke="#5b9bd5" stroke-width="3.5"/>
<line x1="1047" y1="1043" x2="1056.6" y2="1043" stroke="#5b9bd5" stroke-width="3.9" stroke-linecap="round"/>
<line x1="1075.6" y1="1115.8" x2="1075.6" y2="1121.8" stroke="#ed7d31" stroke-width="3.5"/>
<line x1="1070.4" y1="1115.8" x2="1080" y2="1115.8" stroke="#ed7d31" stroke-width="3.9" stroke-linecap="round"/>
<line x1="1099" y1="1015" x2="1099" y2="1030.5" stroke="#70ad47" stroke-width="3.5"/>
<line x1="1093.8" y1="1015" x2="1103.4" y2="1015" stroke="#70ad47" stroke-width="3.9" stroke-linecap="round"/>
<path d="M1142.6 1187.5 L1142.6 1144.5 Q1142.6 1142 1145.1 1142 L1168.9 1142 L1168.9 1187.5 Z" fill="#7f7f7f"/>
<rect x="1168.9" y="1020.3" width="23.4" height="167.2" fill="#5b9bd5"/>
<rect x="1192.3" y="1136.2" width="23.4" height="51.3" fill="#ed7d31"/>
<rect x="1215.7" y="1010.6" width="23.4" height="176.9" fill="#70ad47"/>
<line x1="1157" y1="1140.2" x2="1157" y2="1142.5" stroke="#666666" stroke-width="3.5"/>
<line x1="1151.8" y1="1140.2" x2="1161.4" y2="1140.2" stroke="#666666" stroke-width="3.9" stroke-linecap="round"/>
<line x1="1180.6" y1="1000" x2="1180.6" y2="1020.8" stroke="#5b9bd5" stroke-width="3.5"/>
<line x1="1175.4" y1="1000" x2="1185" y2="1000" stroke="#5b9bd5" stroke-width="3.9" stroke-linecap="round"/>
<line x1="1204" y1="1134.7" x2="1204" y2="1136.7" stroke="#ed7d31" stroke-width="3.5"/>
<line x1="1198.8" y1="1134.7" x2="1208.4" y2="1134.7" stroke="#ed7d31" stroke-width="3.9" stroke-linecap="round"/>
<line x1="1227.4" y1="991.6" x2="1227.4" y2="1011.1" stroke="#70ad47" stroke-width="3.5"/>
<line x1="1222.2" y1="991.6" x2="1231.8" y2="991.6" stroke="#70ad47" stroke-width="3.9" stroke-linecap="round"/>
<path d="M1271 1187.5 L1271 1144.5 Q1271 1142 1273.5 1142 L1297.3 1142 L1297.3 1187.5 Z" fill="#7f7f7f"/>
<rect x="1297.3" y="776" width="23.4" height="411.5" fill="#5b9bd5"/>
<rect x="1320.7" y="1169.5" width="23.4" height="18" fill="#ed7d31"/>
<rect x="1344.1" y="974.8" width="23.4" height="212.7" fill="#70ad47"/>
<line x1="1280.2" y1="1143.7" x2="1289.8" y2="1143.7" stroke="#666666" stroke-width="3.9" stroke-linecap="round"/>
<line x1="1309" y1="729.3" x2="1309" y2="776.5" stroke="#5b9bd5" stroke-width="3.5"/>
<line x1="1303.8" y1="729.3" x2="1313.4" y2="729.3" stroke="#5b9bd5" stroke-width="3.9" stroke-linecap="round"/>
<line x1="1332.4" y1="1168" x2="1332.4" y2="1170" stroke="#ed7d31" stroke-width="3.5"/>
<line x1="1327.2" y1="1168" x2="1336.8" y2="1168" stroke="#ed7d31" stroke-width="3.9" stroke-linecap="round"/>
<line x1="1355.8" y1="933.6" x2="1355.8" y2="975.3" stroke="#70ad47" stroke-width="3.5"/>
<line x1="1350.6" y1="933.6" x2="1360.2" y2="933.6" stroke="#70ad47" stroke-width="3.9" stroke-linecap="round"/>
<path d="M1399.4 1187.5 L1399.4 1144.7 Q1399.4 1142.2 1401.9 1142.2 L1425.7 1142.2 L1425.7 1187.5 Z" fill="#7f7f7f"/>
<rect x="1425.7" y="1066" width="23.4" height="121.5" fill="#5b9bd5"/>
<rect x="1449.1" y="1134.8" width="23.4" height="52.7" fill="#ed7d31"/>
<rect x="1472.5" y="1092" width="23.4" height="95.5" fill="#70ad47"/>
<line x1="1413.8" y1="1137.7" x2="1413.8" y2="1142.7" stroke="#666666" stroke-width="3.5"/>
<line x1="1408.6" y1="1137.7" x2="1418.2" y2="1137.7" stroke="#666666" stroke-width="3.9" stroke-linecap="round"/>
<line x1="1437.4" y1="1059.5" x2="1437.4" y2="1066.5" stroke="#5b9bd5" stroke-width="3.5"/>
<line x1="1432.2" y1="1059.5" x2="1441.8" y2="1059.5" stroke="#5b9bd5" stroke-width="3.9" stroke-linecap="round"/>
<line x1="1460.8" y1="1131" x2="1460.8" y2="1135.3" stroke="#ed7d31" stroke-width="3.5"/>
<line x1="1455.6" y1="1131" x2="1465.2" y2="1131" stroke="#ed7d31" stroke-width="3.9" stroke-linecap="round"/>
<line x1="1484.2" y1="1075.8" x2="1484.2" y2="1092.5" stroke="#70ad47" stroke-width="3.5"/>
<line x1="1479" y1="1075.8" x2="1488.6" y2="1075.8" stroke="#70ad47" stroke-width="3.9" stroke-linecap="round"/>
<path d="M1527.8 1187.5 L1527.8 1144.7 Q1527.8 1142.2 1530.3 1142.2 L1554.1 1142.2 L1554.1 1187.5 Z" fill="#7f7f7f"/>
<rect x="1554.1" y="1090.8" width="23.4" height="96.7" fill="#5b9bd5"/>
<rect x="1577.5" y="1152.5" width="23.4" height="35" fill="#ed7d31"/>
<rect x="1600.9" y="1123.8" width="23.4" height="63.7" fill="#70ad47"/>
<line x1="1542.2" y1="1140.5" x2="1542.2" y2="1142.7" stroke="#666666" stroke-width="3.5"/>
<line x1="1537" y1="1140.5" x2="1546.6" y2="1140.5" stroke="#666666" stroke-width="3.9" stroke-linecap="round"/>
<line x1="1565.8" y1="1063.5" x2="1565.8" y2="1091.3" stroke="#5b9bd5" stroke-width="3.5"/>
<line x1="1560.6" y1="1063.5" x2="1570.2" y2="1063.5" stroke="#5b9bd5" stroke-width="3.9" stroke-linecap="round"/>
<line x1="1589.2" y1="1150.2" x2="1589.2" y2="1153" stroke="#ed7d31" stroke-width="3.5"/>
<line x1="1584" y1="1150.2" x2="1593.6" y2="1150.2" stroke="#ed7d31" stroke-width="3.9" stroke-linecap="round"/>
<line x1="1612.6" y1="1118.8" x2="1612.6" y2="1124.3" stroke="#70ad47" stroke-width="3.5"/>
<line x1="1607.4" y1="1118.8" x2="1617" y2="1118.8" stroke="#70ad47" stroke-width="3.9" stroke-linecap="round"/>
<line x1="999.7" y1="668.3" x2="999.7" y2="1198.5" stroke="#000" stroke-width="4.2"/>
<line x1="987.9" y1="1187.5" x2="1643.8" y2="1187.5" stroke="#000" stroke-width="4.2"/>
<line x1="987.9" y1="1101.32" x2="999.7" y2="1101.32" stroke="#000" stroke-width="4"/>
<line x1="987.9" y1="1015.13" x2="999.7" y2="1015.13" stroke="#000" stroke-width="4"/>
<line x1="987.9" y1="928.95" x2="999.7" y2="928.95" stroke="#000" stroke-width="4"/>
<line x1="987.9" y1="842.77" x2="999.7" y2="842.77" stroke="#000" stroke-width="4"/>
<line x1="987.9" y1="756.58" x2="999.7" y2="756.58" stroke="#000" stroke-width="4"/>
<line x1="987.9" y1="670.4" x2="999.7" y2="670.4" stroke="#000" stroke-width="4"/>
<line x1="1128.1" y1="1187.5" x2="1128.1" y2="1198.5" stroke="#000" stroke-width="4"/>
<line x1="1256.5" y1="1187.5" x2="1256.5" y2="1198.5" stroke="#000" stroke-width="4"/>
<line x1="1384.9" y1="1187.5" x2="1384.9" y2="1198.5" stroke="#000" stroke-width="4"/>
<line x1="1513.3" y1="1187.5" x2="1513.3" y2="1198.5" stroke="#000" stroke-width="4"/>
<line x1="1641.7" y1="1187.5" x2="1641.7" y2="1198.5" stroke="#000" stroke-width="4"/>
<text class="t" x="967.1" y="1196.7" text-anchor="end">0</text>
<text class="t" x="967.1" y="1110.52" text-anchor="end">2</text>
<text class="t" x="967.1" y="1024.33" text-anchor="end">4</text>
<text class="t" x="967.1" y="938.15" text-anchor="end">6</text>
<text class="t" x="967.1" y="851.97" text-anchor="end">8</text>
<text class="t" x="967.1" y="765.78" text-anchor="end">10</text>
<text class="t" x="967.1" y="679.6" text-anchor="end">12</text>
<text class="t" x="1063.9" y="1234.7" text-anchor="middle">3H</text>
<text class="t" x="1192.3" y="1234.7" text-anchor="middle">6H</text>
<text class="t" x="1320.7" y="1234.7" text-anchor="middle">9H</text>
<text class="t" x="1449.1" y="1234.7" text-anchor="middle">12H</text>
<text class="t" x="1577.5" y="1234.7" text-anchor="middle">24H</text>
<text class="s" x="1050.2" y="1043.9" text-anchor="middle">*</text>
<text class="s" x="1075" y="1111.1" text-anchor="middle">*</text>
<text class="s" x="1100.9" y="1016.2" text-anchor="middle">*</text>
<text class="s" x="1182.4" y="999.4" text-anchor="middle">*</text>
<text class="s" x="1204.4" y="1131.1" text-anchor="middle">*</text>
<text class="s" x="1227.9" y="990.7" text-anchor="middle">*</text>
<text class="s" x="1308.1" y="729.1" text-anchor="middle">*</text>
<text class="s" x="1332.5" y="1168.6" text-anchor="middle">*</text>
<text class="s" x="1355" y="934.5" text-anchor="middle">*</text>
<text class="s" x="1436.4" y="1057.4" text-anchor="middle">*</text>
<text class="s" x="1486.3" y="1076.6" text-anchor="middle">*</text>
<text class="s" x="1565" y="1061.6" text-anchor="middle">*</text>
<text class="s" x="1588.3" y="1151.6" text-anchor="middle">*</text>
<text class="s" x="1613.3" y="1120.9" text-anchor="middle">*</text>
<text class="L" x="885.04" y="681" font-size="45.18" textLength="33.27" lengthAdjust="spacingAndGlyphs">D</text>
<text class="T" x="1342.9" y="664.5" textLength="52" lengthAdjust="spacingAndGlyphs">Gut</text>
<text class="T" x="1479.1" y="715.7" textLength="136.9" lengthAdjust="spacingAndGlyphs">(<tspan font-style="italic">P</tspan> &lt; 0.05)</text>
<text class="t" transform="translate(921.9 1120.2) rotate(-90)" x="0" y="0" textLength="148.84" lengthAdjust="spacingAndGlyphs">Fold change (</text>
<text class="t" font-style="italic" transform="translate(921.9 969.19) rotate(-90)" x="0" y="0" textLength="231.29" lengthAdjust="spacingAndGlyphs">TmRelish/TmL27a)</text>
</g>
<g>
<line x1="116.2" y1="1738.76" x2="753.2" y2="1738.76" stroke="#e8e8e8" stroke-width="3"/>
<line x1="116.2" y1="1635.72" x2="753.2" y2="1635.72" stroke="#e8e8e8" stroke-width="3"/>
<line x1="116.2" y1="1532.68" x2="753.2" y2="1532.68" stroke="#e8e8e8" stroke-width="3"/>
<line x1="116.2" y1="1429.64" x2="753.2" y2="1429.64" stroke="#e8e8e8" stroke-width="3"/>
<line x1="116.2" y1="1326.6" x2="753.2" y2="1326.6" stroke="#e8e8e8" stroke-width="3"/>
<path d="M128 1841.8 L128 1822.5 Q128 1820 130.5 1820 L154.3 1820 L154.3 1841.8 Z" fill="#7f7f7f"/>
<rect x="154.3" y="1590.6" width="23.4" height="251.2" fill="#5b9bd5"/>
<rect x="177.7" y="1638.8" width="23.4" height="203" fill="#ed7d31"/>
<rect x="201.1" y="1644.6" width="23.4" height="197.2" fill="#70ad47"/>
<line x1="137.2" y1="1822" x2="146.8" y2="1822" stroke="#666666" stroke-width="3.9" stroke-linecap="round"/>
<line x1="166" y1="1585.6" x2="166" y2="1591.1" stroke="#5b9bd5" stroke-width="3.5"/>
<line x1="160.8" y1="1585.6" x2="170.4" y2="1585.6" stroke="#5b9bd5" stroke-width="3.9" stroke-linecap="round"/>
<line x1="189.4" y1="1600.6" x2="189.4" y2="1639.3" stroke="#ed7d31" stroke-width="3.5"/>
<line x1="184.2" y1="1600.6" x2="193.8" y2="1600.6" stroke="#ed7d31" stroke-width="3.9" stroke-linecap="round"/>
<line x1="212.8" y1="1639.3" x2="212.8" y2="1645.1" stroke="#70ad47" stroke-width="3.5"/>
<line x1="207.6" y1="1639.3" x2="217.2" y2="1639.3" stroke="#70ad47" stroke-width="3.9" stroke-linecap="round"/>
<path d="M256.4 1841.8 L256.4 1822.5 Q256.4 1820 258.9 1820 L282.7 1820 L282.7 1841.8 Z" fill="#7f7f7f"/>
<rect x="282.7" y="1404.5" width="23.4" height="437.3" fill="#5b9bd5"/>
<rect x="306.1" y="1734.3" width="23.4" height="107.5" fill="#ed7d31"/>
<rect x="329.5" y="1790.8" width="23.4" height="51" fill="#70ad47"/>
<line x1="270.8" y1="1818.2" x2="270.8" y2="1820.5" stroke="#666666" stroke-width="3.5"/>
<line x1="265.6" y1="1818.2" x2="275.2" y2="1818.2" stroke="#666666" stroke-width="3.9" stroke-linecap="round"/>
<line x1="294.4" y1="1401.3" x2="294.4" y2="1405" stroke="#5b9bd5" stroke-width="3.5"/>
<line x1="289.2" y1="1401.3" x2="298.8" y2="1401.3" stroke="#5b9bd5" stroke-width="3.9" stroke-linecap="round"/>
<line x1="317.8" y1="1720.8" x2="317.8" y2="1734.8" stroke="#ed7d31" stroke-width="3.5"/>
<line x1="312.6" y1="1720.8" x2="322.2" y2="1720.8" stroke="#ed7d31" stroke-width="3.9" stroke-linecap="round"/>
<line x1="341.2" y1="1785.8" x2="341.2" y2="1791.3" stroke="#70ad47" stroke-width="3.5"/>
<line x1="336" y1="1785.8" x2="345.6" y2="1785.8" stroke="#70ad47" stroke-width="3.9" stroke-linecap="round"/>
<path d="M384.8 1841.8 L384.8 1822.5 Q384.8 1820 387.3 1820 L411.1 1820 L411.1 1841.8 Z" fill="#7f7f7f"/>
<rect x="411.1" y="1485.7" width="23.4" height="356.1" fill="#5b9bd5"/>
<rect x="434.5" y="1775.5" width="23.4" height="66.3" fill="#ed7d31"/>
<rect x="457.9" y="1783.8" width="23.4" height="58" fill="#70ad47"/>
<line x1="394" y1="1822" x2="403.6" y2="1822" stroke="#666666" stroke-width="3.9" stroke-linecap="round"/>
<line x1="422.8" y1="1471" x2="422.8" y2="1486.2" stroke="#5b9bd5" stroke-width="3.5"/>
<line x1="417.6" y1="1471" x2="427.2" y2="1471" stroke="#5b9bd5" stroke-width="3.9" stroke-linecap="round"/>
<line x1="446.2" y1="1770.5" x2="446.2" y2="1776" stroke="#ed7d31" stroke-width="3.5"/>
<line x1="441" y1="1770.5" x2="450.6" y2="1770.5" stroke="#ed7d31" stroke-width="3.9" stroke-linecap="round"/>
<line x1="469.6" y1="1780" x2="469.6" y2="1784.3" stroke="#70ad47" stroke-width="3.5"/>
<line x1="464.4" y1="1780" x2="474" y2="1780" stroke="#70ad47" stroke-width="3.9" stroke-linecap="round"/>
<path d="M513.2 1841.8 L513.2 1822.5 Q513.2 1820 515.7 1820 L539.5 1820 L539.5 1841.8 Z" fill="#7f7f7f"/>
<rect x="539.5" y="1585.1" width="23.4" height="256.7" fill="#5b9bd5"/>
<rect x="562.9" y="1817" width="23.4" height="24.8" fill="#ed7d31"/>
<rect x="586.3" y="1826.7" width="23.4" height="15.1" fill="#70ad47"/>
<line x1="522.4" y1="1822" x2="532" y2="1822" stroke="#666666" stroke-width="3.9" stroke-linecap="round"/>
<line x1="551.2" y1="1566.4" x2="551.2" y2="1585.6" stroke="#5b9bd5" stroke-width="3.5"/>
<line x1="546" y1="1566.4" x2="555.6" y2="1566.4" stroke="#5b9bd5" stroke-width="3.9" stroke-linecap="round"/>
<line x1="574.6" y1="1815.5" x2="574.6" y2="1817.5" stroke="#ed7d31" stroke-width="3.5"/>
<line x1="569.4" y1="1815.5" x2="579" y2="1815.5" stroke="#ed7d31" stroke-width="3.9" stroke-linecap="round"/>
<line x1="598" y1="1825.2" x2="598" y2="1827.2" stroke="#70ad47" stroke-width="3.5"/>
<line x1="592.8" y1="1825.2" x2="602.4" y2="1825.2" stroke="#70ad47" stroke-width="3.9" stroke-linecap="round"/>
<path d="M641.6 1841.8 L641.6 1822.5 Q641.6 1820 644.1 1820 L667.9 1820 L667.9 1841.8 Z" fill="#7f7f7f"/>
<rect x="667.9" y="1727" width="23.4" height="114.8" fill="#5b9bd5"/>
<rect x="691.3" y="1804.5" width="23.4" height="37.3" fill="#ed7d31"/>
<rect x="714.7" y="1811.2" width="23.4" height="30.6" fill="#70ad47"/>
<line x1="650.8" y1="1822" x2="660.4" y2="1822" stroke="#666666" stroke-width="3.9" stroke-linecap="round"/>
<line x1="679.6" y1="1718" x2="679.6" y2="1727.5" stroke="#5b9bd5" stroke-width="3.5"/>
<line x1="674.4" y1="1718" x2="684" y2="1718" stroke="#5b9bd5" stroke-width="3.9" stroke-linecap="round"/>
<line x1="703" y1="1801.7" x2="703" y2="1805" stroke="#ed7d31" stroke-width="3.5"/>
<line x1="697.8" y1="1801.7" x2="707.4" y2="1801.7" stroke="#ed7d31" stroke-width="3.9" stroke-linecap="round"/>
<line x1="726.4" y1="1809.5" x2="726.4" y2="1811.7" stroke="#70ad47" stroke-width="3.5"/>
<line x1="721.2" y1="1809.5" x2="730.8" y2="1809.5" stroke="#70ad47" stroke-width="3.9" stroke-linecap="round"/>
<line x1="112.2" y1="1324.5" x2="112.2" y2="1852.8" stroke="#000" stroke-width="4.2"/>
<line x1="100.4" y1="1841.8" x2="756.3" y2="1841.8" stroke="#000" stroke-width="4.2"/>
<line x1="100.4" y1="1738.76" x2="112.2" y2="1738.76" stroke="#000" stroke-width="4"/>
<line x1="100.4" y1="1635.72" x2="112.2" y2="1635.72" stroke="#000" stroke-width="4"/>
<line x1="100.4" y1="1532.68" x2="112.2" y2="1532.68" stroke="#000" stroke-width="4"/>
<line x1="100.4" y1="1429.64" x2="112.2" y2="1429.64" stroke="#000" stroke-width="4"/>
<line x1="100.4" y1="1326.6" x2="112.2" y2="1326.6" stroke="#000" stroke-width="4"/>
<line x1="240.6" y1="1841.8" x2="240.6" y2="1852.8" stroke="#000" stroke-width="4"/>
<line x1="369" y1="1841.8" x2="369" y2="1852.8" stroke="#000" stroke-width="4"/>
<line x1="497.4" y1="1841.8" x2="497.4" y2="1852.8" stroke="#000" stroke-width="4"/>
<line x1="625.8" y1="1841.8" x2="625.8" y2="1852.8" stroke="#000" stroke-width="4"/>
<line x1="754.2" y1="1841.8" x2="754.2" y2="1852.8" stroke="#000" stroke-width="4"/>
<text class="t" x="79.6" y="1849.8" text-anchor="end">0</text>
<text class="t" x="79.6" y="1746.76" text-anchor="end">5</text>
<text class="t" x="79.6" y="1643.72" text-anchor="end">10</text>
<text class="t" x="79.6" y="1540.68" text-anchor="end">15</text>
<text class="t" x="79.6" y="1437.64" text-anchor="end">20</text>
<text class="t" x="79.6" y="1334.6" text-anchor="end">25</text>
<text class="t" x="176.4" y="1889.3" text-anchor="middle">3H</text>
<text class="t" x="304.8" y="1889.3" text-anchor="middle">6H</text>
<text class="t" x="433.2" y="1889.3" text-anchor="middle">9H</text>
<text class="t" x="561.6" y="1889.3" text-anchor="middle">12H</text>
<text class="t" x="690" y="1889.3" text-anchor="middle">24H</text>
<text class="s" x="165.2" y="1580" text-anchor="middle">*</text>
<text class="s" x="192.7" y="1596.2" text-anchor="middle">*</text>
<text class="s" x="214.9" y="1637.5" text-anchor="middle">*</text>
<text class="s" x="294.9" y="1398.1" text-anchor="middle">*</text>
<text class="s" x="318.6" y="1713.6" text-anchor="middle">*</text>
<text class="s" x="342.9" y="1782.9" text-anchor="middle">*</text>
<text class="s" x="421.8" y="1472.1" text-anchor="middle">*</text>
<text class="s" x="445.5" y="1763.1" text-anchor="middle">*</text>
<text class="s" x="469.8" y="1778.6" text-anchor="middle">*</text>
<text class="s" x="550.2" y="1567" text-anchor="middle">*</text>
<text class="s" x="573.6" y="1814.4" text-anchor="middle">*</text>
<text class="s" x="599.9" y="1824.3" text-anchor="middle">*</text>
<text class="s" x="679.8" y="1717.4" text-anchor="middle">*</text>
<text class="s" x="702.3" y="1800.4" text-anchor="middle">*</text>
<text class="s" x="728.1" y="1810.6" text-anchor="middle">*</text>
<text class="L" x="-0.15" y="1332" font-size="45.47" textLength="23.29" lengthAdjust="spacingAndGlyphs">E</text>
<text class="T" x="339.6" y="1315.6" textLength="276.1" lengthAdjust="spacingAndGlyphs">Malpighian tubules</text>
<text class="T" x="622.8" y="1367.2" textLength="119" lengthAdjust="spacingAndGlyphs">(P&lt;0.05)</text>
<text class="t" transform="translate(34.1 1776.3) rotate(-90)" x="0" y="0" textLength="148.84" lengthAdjust="spacingAndGlyphs">Fold change (</text>
<text class="t" font-style="italic" transform="translate(34.1 1625.29) rotate(-90)" x="0" y="0" textLength="231.29" lengthAdjust="spacingAndGlyphs">TmRelish/TmL27a)</text>
</g>
<rect x="1131.5" y="1504.7" width="330.3" height="157.9" fill="#fff" stroke="#000" stroke-width="2.2"/>
<rect x="1146.7" y="1527.5" width="19.3" height="18.7" fill="#7f7f7f" stroke="#6e6e6e" stroke-width="1"/>
<rect x="1148" y="1561.7" width="16.5" height="15.8" fill="#5b9bd5"/>
<rect x="1148" y="1593.7" width="16.5" height="15.8" fill="#ed7d31"/>
<rect x="1148" y="1628.2" width="16.5" height="15.9" fill="#70ad47"/>
<text class="G" font-style="italic" x="1186" y="1542.5" textLength="51.2" lengthAdjust="spacingAndGlyphs">PBS</text>
<text class="G" x="1236.4" y="1542.5" textLength="117.6" lengthAdjust="spacingAndGlyphs">-injected</text>
<text class="G" font-style="italic" x="1184.7" y="1578.2" textLength="77.5" lengthAdjust="spacingAndGlyphs">E. coli</text>
<text class="G" x="1262.7" y="1578.2" textLength="117.5" lengthAdjust="spacingAndGlyphs">-injected</text>
<text class="G" font-style="italic" x="1184.7" y="1612.4" textLength="119.9" lengthAdjust="spacingAndGlyphs">S. aureus</text>
<text class="G" x="1303.9" y="1612.4" textLength="117.5" lengthAdjust="spacingAndGlyphs">-injected</text>
<text class="G" font-style="italic" x="1184.7" y="1646.9" textLength="139.9" lengthAdjust="spacingAndGlyphs">C. albicans</text>
<text class="G" x="1325.1" y="1646.9" textLength="117.5" lengthAdjust="spacingAndGlyphs">-injected</text>
</svg>
</body>
</html>
